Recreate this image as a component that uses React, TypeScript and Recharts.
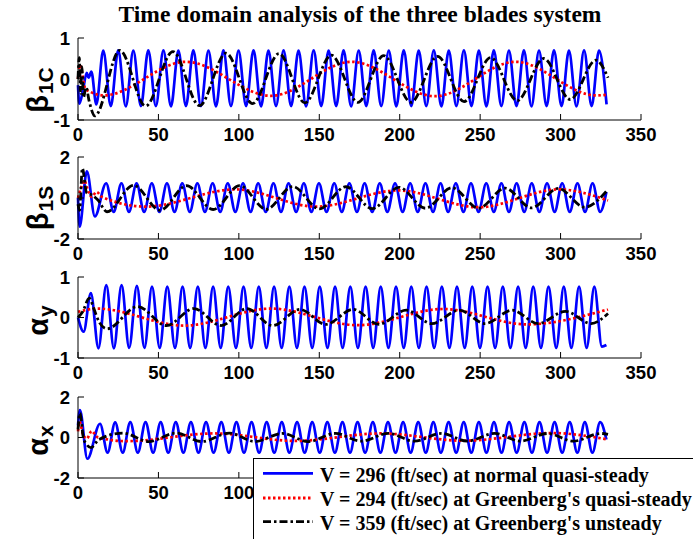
import React from 'react';
import { LineChart, Line, XAxis, YAxis, Legend } from 'recharts';

type Pt = { t: number; v: number };
const toPts = (a: number[][]): Pt[] => a.map(([t, v]) => ({ t, v }));

const xTicks = [0, 50, 100, 150, 200, 250, 300, 350];
const legendNames = [
  'V = 296 (ft/sec) at normal quasi-steady',
  "V = 294 (ft/sec) at Greenberg's quasi-steady",
  "V = 359 (ft/sec) at Greenberg's unsteady",
];
const titleText = 'Time domain analysis of the three blades system';

// ---- Panel 1: beta_1C ----
const b1cBlue = toPts([[0,-0.15],[0.8,-0.6],[3,-0.3],[5.4,0.15],[6.6,0.03],[8.3,0.18],[11.4,-0.62],
[15.7,0.69],[20.4,-0.66],[25.0,0.7],[29.7,-0.67],[34.4,0.69],[39.1,-0.66],[43.7,0.7],[48.4,-0.66],[53.1,0.7],[57.8,-0.67],[62.4,0.69],[67.1,-0.66],[71.7,0.7],[76.4,-0.66],[81.1,0.69],[85.8,-0.67],[90.4,0.7],[95.1,-0.66],[99.8,0.69],[104.5,-0.66],[109.1,0.7],[113.8,-0.67],[118.4,0.69],[123.1,-0.66],[127.8,0.7],[132.5,-0.66],[137.1,0.69],[141.8,-0.67],[146.5,0.7],[151.2,-0.66],[155.8,0.69],[160.5,-0.66],[165.1,0.7],[169.8,-0.67],[174.5,0.69],[179.2,-0.66],[183.8,0.7],[188.5,-0.66],[193.2,0.69],[197.9,-0.67],[202.5,0.7],[207.2,-0.66],[211.8,0.69],[216.5,-0.66],[221.2,0.7],[225.9,-0.67],[230.5,0.69],[235.2,-0.66],[239.9,0.7],[244.6,-0.66],[249.2,0.69],[253.9,-0.67],[258.5,0.7],[263.2,-0.66],[267.9,0.69],[272.6,-0.66],[277.2,0.7],[281.9,-0.67],[286.6,0.69],[291.3,-0.66],[295.9,0.7],[300.6,-0.66],[305.2,0.69],[309.9,-0.67],[314.6,0.7],[319.3,-0.66],[323.9,0.69],[328.6,-0.62]]);
const b1cRed = toPts([[0,0],[1.2,0.34],[4.5,-0.23],[8,-0.32],[16,-0.4],[67,0.42],[120,-0.41],[170,0.42],[222,-0.42],[272,0.42],[322,-0.4],[329.5,-0.38]]);
const b1cBlack = toPts([[0,0],[0.8,0.52],[1.6,-0.35],[2.4,0.3],[3.4,-0.45],[5,-0.2],[7,-0.55],[10.5,-0.9],[26,0.7],[42,-0.66],[59,0.67],[75.5,-0.65],[92,0.63],[108.5,-0.6],[125,0.62],[141,-0.58],[157.5,0.58],[174,-0.57],[190,0.57],[207,-0.57],[223.5,0.55],[240,-0.55],[256.5,0.52],[273,-0.53],[289.5,0.5],[306,-0.5],[322,0.46],[329.5,0.03]]);

// ---- Panel 2: beta_1S ----
const b1sBlue = toPts([[0,0],[1,-1.4],[5.5,1.3],[10.5,-0.9],[17.5,0.72],[22.2,-0.68],[27.0,0.72],[31.7,-0.68],[36.4,0.72],[41.1,-0.68],[45.9,0.72],[50.6,-0.68],[55.3,0.72],[60.0,-0.68],[64.8,0.72],[69.5,-0.68],[74.2,0.72],[78.9,-0.68],[83.7,0.72],[88.4,-0.68],[93.1,0.72],[97.8,-0.68],[102.6,0.72],[107.3,-0.68],[112.0,0.72],[116.7,-0.68],[121.5,0.72],[126.2,-0.68],[130.9,0.72],[135.6,-0.68],[140.4,0.72],[145.1,-0.68],[149.8,0.72],[154.5,-0.68],[159.3,0.72],[164.0,-0.68],[168.7,0.72],[173.4,-0.68],[178.2,0.72],[182.9,-0.68],[187.6,0.72],[192.3,-0.68],[197.1,0.72],[201.8,-0.68],[206.5,0.72],[211.2,-0.68],[216.0,0.72],[220.7,-0.68],[225.4,0.72],[230.1,-0.68],[234.9,0.72],[239.6,-0.68],[244.3,0.72],[249.0,-0.68],[253.8,0.72],[258.5,-0.68],[263.2,0.72],[267.9,-0.68],[272.7,0.72],[277.4,-0.68],[282.1,0.72],[286.8,-0.68],[291.6,0.72],[296.3,-0.68],[301.0,0.72],[305.7,-0.68],[310.5,0.72],[315.2,-0.68],[319.9,0.72],[324.6,-0.68],[328.5,0.3]]);
const b1sRed = toPts([[0,0],[1.5,0.4],[3.8,0.85],[6.5,0.3],[8.5,0.05],[11.5,0.3],[15,0.05],[42,-0.42],[98,0.42],[148,-0.42],[199,0.37],[249,-0.45],[299,0.42],[329.5,-0.12]]);
const b1sBlack = toPts([[0,-0.3],[1,-0.6],[2.7,1.45],[5.4,0.25],[8.6,0.15],[12.4,-0.1],[18,-0.67],[34.5,0.62],[51,-0.6],[67.5,0.6],[84,-0.56],[100.5,0.6],[117,-0.55],[133.5,0.56],[150,-0.53],[166.5,0.55],[183,-0.52],[199.5,0.52],[216,-0.5],[232.5,0.5],[249,-0.5],[265.5,0.48],[282,-0.48],[298.5,0.47],[315,-0.45],[329.5,0.42]]);

// ---- Panel 3: alpha_y ----
const ayBlue = toPts([[0,0],[3.5,-0.35],[8,0.6],[12.7,-0.76],[17.6,0.8],[22.3,-0.76],[27.1,0.8],[31.8,-0.75],[36.6,0.78],[41.3,-0.75],[46.0,0.76],[50.8,-0.75],[55.5,0.76],[60.3,-0.75],[65.0,0.76],[69.7,-0.75],[74.5,0.76],[79.2,-0.75],[84.0,0.76],[88.7,-0.75],[93.4,0.76],[98.2,-0.75],[102.9,0.76],[107.7,-0.75],[112.4,0.76],[117.1,-0.75],[121.9,0.76],[126.6,-0.75],[131.4,0.76],[136.1,-0.75],[140.8,0.76],[145.6,-0.75],[150.3,0.76],[155.1,-0.75],[159.8,0.76],[164.5,-0.75],[169.3,0.76],[174.0,-0.75],[178.8,0.76],[183.5,-0.75],[188.2,0.76],[193.0,-0.75],[197.7,0.76],[202.5,-0.75],[207.2,0.76],[211.9,-0.75],[216.7,0.76],[221.4,-0.75],[226.2,0.76],[230.9,-0.75],[235.6,0.76],[240.4,-0.75],[245.1,0.76],[249.9,-0.75],[254.6,0.76],[259.3,-0.75],[264.1,0.76],[268.8,-0.75],[273.6,0.76],[278.3,-0.75],[283.0,0.76],[287.8,-0.75],[292.5,0.76],[297.3,-0.75],[302.0,0.76],[306.7,-0.75],[311.5,0.76],[316.2,-0.75],[321.0,0.76],[325.7,-0.72],[328.5,-0.68]]);
const ayRed = toPts([[0,0.14],[12,0.22],[66,-0.2],[120,0.22],[174,-0.19],[227,0.21],[279,-0.17],[329.5,0.2]]);
const ayBlack = toPts([[0,0],[3,0.15],[7,0.48],[10,0.2],[13,-0.1],[18,-0.28],[37,0.27],[55,-0.2],[72,0.22],[89,-0.2],[105,0.22],[121,-0.2],[138,0.2],[154,-0.17],[171,0.2],[187,-0.17],[204,0.18],[220,-0.15],[237,0.18],[253,-0.15],[270,0.18],[286,-0.15],[303,0.15],[319,-0.15],[329.5,0.1]]);

// ---- Panel 4: alpha_x ----
const axBlue = toPts([[0,0.6],[1.2,1.35],[5.8,-1.05],[13.7,0.68],[18.4,-0.75],[23.1,0.75],[27.8,-0.75],[32.5,0.76],[37.2,-0.75],[42.0,0.76],[46.7,-0.75],[51.4,0.76],[56.1,-0.75],[60.8,0.76],[65.5,-0.75],[70.2,0.76],[74.9,-0.75],[79.6,0.76],[84.3,-0.75],[89.1,0.76],[93.8,-0.75],[98.5,0.76],[103.2,-0.75],[107.9,0.76],[112.6,-0.75],[117.3,0.76],[122.0,-0.75],[126.7,0.76],[131.4,-0.75],[136.2,0.76],[140.9,-0.75],[145.6,0.76],[150.3,-0.75],[155.0,0.76],[159.7,-0.75],[164.4,0.76],[169.1,-0.75],[173.8,0.76],[178.5,-0.75],[183.3,0.76],[188.0,-0.75],[192.7,0.76],[197.4,-0.75],[202.1,0.76],[206.8,-0.75],[211.5,0.76],[216.2,-0.75],[220.9,0.76],[225.6,-0.75],[230.4,0.76],[235.1,-0.75],[239.8,0.76],[244.5,-0.75],[249.2,0.76],[253.9,-0.75],[258.6,0.76],[263.3,-0.75],[268.0,0.76],[272.7,-0.75],[277.5,0.76],[282.2,-0.75],[286.9,0.76],[291.6,-0.75],[296.3,0.76],[301.0,-0.75],[305.7,0.76],[310.4,-0.75],[315.1,0.76],[319.8,-0.75],[324.6,0.76],[328.5,-0.1]]);
const axRed = toPts([[0,0.3],[1,0.78],[3.3,0.1],[5.5,-0.05],[8.5,0.32],[12,0.02],[30,-0.18],[85,0.2],[135,-0.17],[188,0.2],[240,-0.16],[295,0.22],[329.5,-0.1]]);
const axBlack = toPts([[0,0.4],[1.2,1.2],[3.3,0.0],[5,-0.3],[8,-0.5],[13,-0.1],[28,0.22],[44,-0.2],[61,0.22],[77,-0.2],[94,0.22],[110,-0.2],[127,0.2],[143,-0.2],[160,0.2],[176,-0.18],[193,0.2],[209,-0.18],[226,0.2],[242,-0.18],[259,0.2],[275,-0.18],[292,0.2],[308,-0.18],[325,0.2],[329.5,0.15]]);

const W = 693;
const SANS = 'Liberation Sans, Arial, Helvetica, sans-serif';
const SERIF = 'Liberation Serif, Times New Roman, serif';
const tickFont = { fontFamily: SANS, fontWeight: 700, fontSize: 18.5, fill: '#000' };
const BLUE = '#0000ff';
const RED = '#ff0000';
const BLACK = '#000000';
const redDash = '2.5 2.5';
const blackDash = '8 3 2.5 3';

function LegendBox() {
  const styles = [
    { c: BLUE, d: undefined as string | undefined },
    { c: RED, d: redDash },
    { c: BLACK, d: blackDash },
  ];
  const rows = [15.3, 40, 63.7];
  return (
    <svg width={440} height={81} style={{ display: 'block' }}>
      <rect x={0.5} y={0.5} width={470} height={120} fill="#fff" stroke="#000" strokeWidth={1} />
      {legendNames.map((n, i) => (
        <g key={i}>
          <line x1={10} x2={60} y1={rows[i]} y2={rows[i]} stroke={styles[i].c} strokeWidth={2.8} strokeDasharray={styles[i].d} />
          <text x={67} y={rows[i] + 8.2} fontFamily={SERIF} fontWeight={700} fontSize={20} fill="#000">{n}</text>
        </g>
      ))}
    </svg>
  );
}

type PanelProps = {
  top: number; bottom: number; yMax: number; sym: string; sub: string;
  labelShift: number;
  blue: Pt[]; red: Pt[]; black: Pt[]; height?: number; legend?: boolean;
};

function Panel({ top, bottom, yMax, sym, sub, labelShift, blue, red, black, height, legend }: PanelProps) {
  const h = height ?? bottom + 30;
  const mb = h - bottom - 30;
  const cy = (top + bottom) / 2 + labelShift;
  const lx = 48;
  const yLabel = () => (
    <text transform={`rotate(-90, ${lx}, ${cy})`} x={lx} y={cy} textAnchor="middle" fontFamily={SANS} fontWeight={700} fontSize={29} fill="#000">
      {sym}
      <tspan fontSize={21} dx={1} dy={5}>{sub}</tspan>
    </text>
  );
  return (
    <div style={{ position: 'absolute', left: 0, top: 0 }}>
      <LineChart width={W} height={h} margin={{ top, right: 52, bottom: mb, left: 0 }}>
        <XAxis xAxisId="b" dataKey="t" type="number" domain={[0, 350]} ticks={xTicks} interval={0}
          tickSize={-6} tickMargin={14} height={30} axisLine={{ stroke: '#000' }} tickLine={{ stroke: '#000' }} tick={tickFont} />
        <XAxis xAxisId="t" orientation="top" dataKey="t" type="number" domain={[0, 350]} ticks={xTicks} interval={0}
          tickSize={-6} height={0} tick={false} axisLine={{ stroke: '#000' }} tickLine={{ stroke: '#000' }} />
        <YAxis yAxisId="l" type="number" domain={[-yMax, yMax]} ticks={[-yMax, 0, yMax]} interval={0} width={78}
          tickSize={-6} tickMargin={14} axisLine={{ stroke: '#000' }} tickLine={{ stroke: '#000' }} tick={tickFont}
          label={{ content: yLabel }} />
        <YAxis yAxisId="r" orientation="right" type="number" domain={[-yMax, yMax]} ticks={[-yMax, 0, yMax]} interval={0} width={0}
          tickSize={-6} tick={false} axisLine={{ stroke: '#000' }} tickLine={{ stroke: '#000' }} />
        <Line xAxisId="b" yAxisId="l" data={blue} dataKey="v" type="monotone" stroke={BLUE} strokeWidth={2.7} dot={false} isAnimationActive={false} />
        <Line xAxisId="b" yAxisId="l" data={red} dataKey="v" type="monotone" stroke={RED} strokeWidth={2.7} strokeDasharray={redDash} dot={false} isAnimationActive={false} />
        <Line xAxisId="b" yAxisId="l" data={black} dataKey="v" type="monotone" stroke={BLACK} strokeWidth={2.8} strokeDasharray={blackDash} dot={false} isAnimationActive={false} />
        {legend ? (
          <Legend layout="vertical" align="center" verticalAlign="middle" content={() => <LegendBox />}
            wrapperStyle={{ position: 'absolute', left: 253, top: 458, width: 440, height: 81 }} />
        ) : null}
      </LineChart>
    </div>
  );
}

export default function App() {
  return (
    <div style={{ position: 'absolute', left: 0, top: 0, width: W, height: 539, background: '#fff', overflow: 'hidden' }}>
      <svg width={W} height={40} style={{ position: 'absolute', left: 0, top: 0 }}>
        <text x={360} y={22} textAnchor="middle" fontFamily={SERIF} fontWeight={700} fontSize={23.5} fill="#000">{titleText}</text>
      </svg>
      <Panel top={38} bottom={120} yMax={1} sym="β" sub="1C" labelShift={11} blue={b1cBlue} red={b1cRed} black={b1cBlack} />
      <Panel top={157} bottom={239} yMax={2} sym="β" sub="1S" labelShift={10} blue={b1sBlue} red={b1sRed} black={b1sBlack} />
      <Panel top={277} bottom={358} yMax={1} sym="α" sub="y" labelShift={3} blue={ayBlue} red={ayRed} black={ayBlack} />
      <Panel top={397} bottom={478} yMax={2} sym="α" sub="x" labelShift={3} blue={axBlue} red={axRed} black={axBlack} height={539} legend />
    </div>
  );
}
